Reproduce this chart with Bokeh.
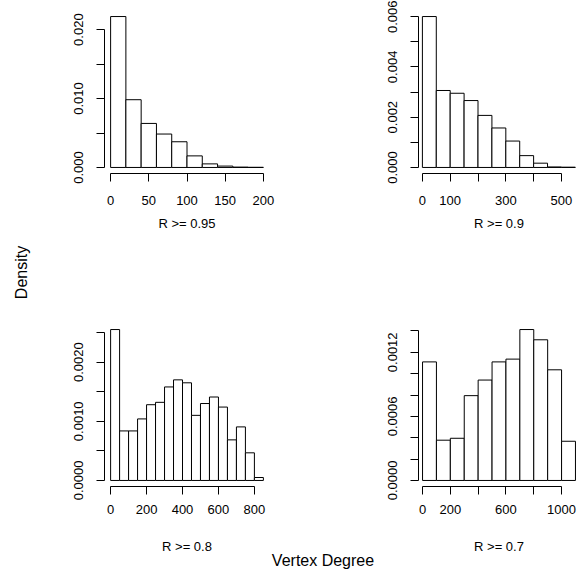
from math import pi
from bokeh.plotting import figure
from bokeh.models import Range1d, FixedTicker, PrintfTickFormatter, Label
from bokeh.layouts import row, column
from bokeh.embed import file_html
from bokeh.resources import INLINE

FONT = "Liberation Sans"

# ---------------- data (histogram densities) ----------------
breaks_095 = [0, 20, 40, 60, 80, 100, 120, 140, 160, 180, 200]
dens_095 = [0.0219, 0.00983, 0.00639, 0.00485, 0.00373, 0.00168, 0.00052, 0.0002, 0.00005, 0.00002]

breaks_090 = [0, 50, 100, 150, 200, 250, 300, 350, 400, 450, 500, 550]
dens_090 = [0.0060, 0.00306, 0.00295, 0.00266, 0.00207, 0.00157, 0.00105, 0.00047, 0.00017, 0.00002, 0.00001]

breaks_080 = [0, 50, 100, 150, 200, 250, 300, 350, 400, 450, 500, 550, 600, 650, 700, 750, 800, 850]
dens_080 = [0.00255, 0.000837, 0.000837, 0.00104, 0.00128, 0.00132, 0.00158, 0.0017, 0.00165,
            0.0011, 0.0013, 0.00141, 0.00124, 0.000686, 0.000905, 0.000467, 0.00005]

breaks_070 = [0, 100, 200, 300, 400, 500, 600, 700, 800, 900, 1000, 1100]
dens_070 = [0.00111, 0.000377, 0.000395, 0.000794, 0.00094, 0.00111, 0.001136, 0.001413,
            0.001317, 0.001036, 0.000367]

# tick values
xt_095, xm_095 = [0, 50, 100, 150, 200], []
xt_090, xm_090 = [0, 100, 300, 500], [200, 400]
xt_080, xm_080 = [0, 200, 400, 600, 800], []
xt_070, xm_070 = [0, 200, 600, 1000], [400, 800]

yt_095, ym_095 = [0, 0.01, 0.02], [0.005, 0.015]
yt_090, ym_090 = [0, 0.002, 0.004, 0.006], [0.001, 0.003, 0.005]
yt_080, ym_080 = [0, 0.001, 0.002], [0.0005, 0.0015, 0.0025]
yt_070, ym_070 = [0, 0.0006, 0.0012], [0.0002, 0.0004, 0.0008, 0.001, 0.0014]

labels = ["R >= 0.95", "R >= 0.9", "R >= 0.8", "R >= 0.7"]


def style_axis(ax, ticks, minor, fmt=None):
    ax.ticker = FixedTicker(ticks=ticks, minor_ticks=minor)
    ax.bounds = (0, max(ticks + minor))
    if fmt:
        ax.formatter = PrintfTickFormatter(format=fmt)
    ax.axis_line_color = "black"
    ax.axis_line_width = 1
    ax.major_tick_in = 0
    ax.major_tick_out = 8
    ax.minor_tick_in = 0
    ax.minor_tick_out = 8
    ax.major_tick_line_color = "black"
    ax.minor_tick_line_color = "black"
    ax.major_label_text_font = FONT
    ax.major_label_text_font_size = "13px"
    ax.major_label_text_color = "black"
    ax.axis_label_text_font = FONT
    ax.axis_label_text_font_size = "13px"
    ax.axis_label_text_font_style = "normal"
    ax.axis_label_text_color = "black"


def panel(breaks, dens, xr, xt, xm, yt, ym, yfmt, width, height, bl, br, bt, bb,
          xlabel=None, x_standoff=10, label_standoff=8):
    ymax = max(dens)
    p = figure(width=width, height=height, x_range=Range1d(*xr),
               y_range=Range1d(-0.04 * ymax, 1.04 * ymax),
               output_backend="svg", toolbar_location=None,
               min_border_left=bl, min_border_right=br,
               min_border_top=bt, min_border_bottom=bb)
    p.quad(left=breaks[:-1], right=breaks[1:], top=dens, bottom=0,
           fill_color="white", line_color="black", line_width=1)
    p.xgrid.visible = False
    p.ygrid.visible = False
    p.outline_line_color = None
    p.background_fill_color = "white"
    p.border_fill_color = "white"
    xa = p.xaxis[0]
    style_axis(xa, xt, xm)
    xa.major_label_standoff = x_standoff
    if xlabel:
        xa.axis_label = xlabel
        xa.axis_label_standoff = label_standoff
    ya = p.yaxis[0]
    style_axis(ya, yt, ym, yfmt)
    ya.major_label_orientation = "vertical"
    ya.major_label_standoff = 13
    return p


# top row: height 290 (frame 163 from y=10), bottom row: height 236 (frame 163 from y=323)
p1 = panel(breaks_095, dens_095, (-8, 208), xt_095, xm_095, yt_095, ym_095, "%.3f",
           244, 290, 56, 23, 10, 117, xlabel=labels[0], x_standoff=14, label_standoff=8)
p2 = panel(breaks_090, dens_090, (-14, 565), xt_090, xm_090, yt_090, ym_090, "%.3f",
           287, 290, 126, 0, 10, 117, xlabel=labels[1], x_standoff=14, label_standoff=8)
p3 = panel(breaks_080, dens_080, (-34, 884), xt_080, xm_080, yt_080, ym_080, "%.4f",
           244, 236, 56, 23, 33, 40, x_standoff=10)
p4 = panel(breaks_070, dens_070, (-29, 1129), xt_070, xm_070, yt_070, ym_070, "%.4f",
           287, 236, 126, 0, 33, 40, x_standoff=10)


def strip(width, height):
    s = figure(width=width, height=height, x_axis_type=None, y_axis_type=None,
               output_backend="svg", toolbar_location=None,
               min_border_left=0, min_border_right=0, min_border_top=0, min_border_bottom=0)
    s.outline_line_color = None
    s.background_fill_color = "white"
    s.border_fill_color = "white"
    return s


dens_strip = strip(48, 526)
dens_strip.add_layout(Label(x=21, y=254, x_units="screen", y_units="screen", text="Density",
                            angle=pi / 2, text_align="center", text_baseline="alphabetic",
                            text_font=FONT, text_font_size="16px", text_color="black"))

vd_strip = strip(579, 45)
vd_strip.add_layout(Label(x=186.5, y=25, x_units="screen", y_units="screen", text=labels[2],
                          text_align="center", text_baseline="alphabetic",
                          text_font=FONT, text_font_size="13px", text_color="black"))
vd_strip.add_layout(Label(x=498.5, y=25, x_units="screen", y_units="screen", text=labels[3],
                          text_align="center", text_baseline="alphabetic",
                          text_font=FONT, text_font_size="13px", text_color="black"))
vd_strip.add_layout(Label(x=322.5, y=11, x_units="screen", y_units="screen", text="Vertex Degree",
                          text_align="center", text_baseline="alphabetic",
                          text_font=FONT, text_font_size="16px", text_color="black"))

layout = column(row(dens_strip, column(row(p1, p2), row(p3, p4))), vd_strip)

open("out.html", "w").write(file_html(layout, INLINE))
